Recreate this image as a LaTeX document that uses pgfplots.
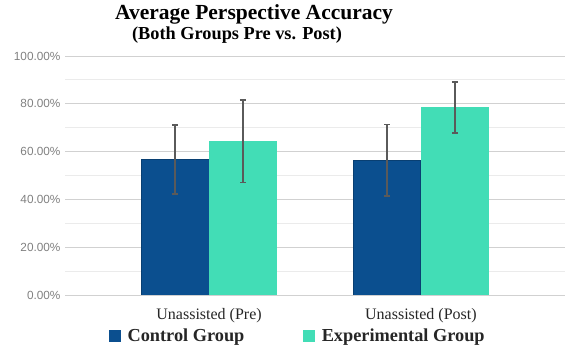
\documentclass[border=0pt]{standalone}
\usepackage{pgfplots}
\pgfplotsset{compat=1.18}
\usepackage{fontspec}
\setmainfont{Liberation Serif}
\newfontfamily\sansf{Liberation Sans}
\definecolor{ctrl}{HTML}{0B4F8F}
\definecolor{expc}{HTML}{42DDB6}
\definecolor{errc}{HTML}{5A5A5A}
\begin{document}
\begin{tikzpicture}[x=1pt,y=1pt]
\useasboundingbox (0,0) rectangle (577,355);
\node[font=\bfseries\fontsize{21.5}{24}\selectfont, anchor=base, inner sep=0pt] at (254,335) {Average Perspective Accuracy};
\node[font=\bfseries\fontsize{18.3}{20}\selectfont, anchor=base, inner sep=0pt] at (237,315) {(Both Groups Pre vs. Post)};
\begin{axis}[
  at={(65pt,60pt)}, anchor=south west,
  scale only axis, width=500pt, height=239pt,
  xmin=-0.68, xmax=1.68, ymin=0, ymax=100,
  axis line style={draw=none},
  ytick={0,20,40,60,80,100},
  yticklabels={0.00\%,20.00\%,40.00\%,60.00\%,80.00\%,100.00\%},
  minor ytick={10,30,50,70,90},
  ymajorgrids, yminorgrids,
  major grid style={color=black!18, line width=0.8pt},
  minor grid style={color=black!8, line width=0.8pt},
  major tick length=0pt, minor tick length=0pt,
  yticklabel style={font=\sansf\fontsize{11.8}{13}\selectfont, text=black!50, xshift=-1pt},
  xtick={0,1},
  xticklabels={Unassisted (Pre),Unassisted (Post)},
  xticklabel style={font=\fontsize{16}{18}\selectfont, text=black!85, yshift=-10pt},
  extra y ticks={0}, extra y tick labels={},
  extra y tick style={grid style={color=black!65, line width=1pt}},
  ybar, bar width=0.317,
  legend columns=2,
  legend style={at={(0.088,-0.1715)}, anchor=west, draw=none, fill=none, inner sep=0pt,
    font=\bfseries\fontsize{18.3}{20}\selectfont, text=black!85,
    /tikz/every odd column/.append style={column sep=5pt},
    /tikz/every even column/.append style={column sep=57pt}},
  error bars/y dir=both, error bars/y explicit,
  error bars/error bar style={line width=1.6pt, color=errc},
  error bars/error mark options={rotate=90, mark size=3pt, line width=1.6pt, color=errc},
]
\addplot[fill=ctrl, draw=ctrl!80!black, bar shift=-0.16,
  legend image code/.code={\fill[ctrl] (0pt,-5.5pt) rectangle (11pt,5.5pt);}]
  coordinates {(0,56.7) +- (0,14.4) (1,56.3) +- (0,15.0)};
\addlegendentry{Control Group}
\addplot[fill=expc, draw=expc, bar shift=0.16,
  legend image code/.code={\fill[expc] (0pt,-5.5pt) rectangle (11pt,5.5pt);}]
  coordinates {(0,64.3) +- (0,17.3) (1,78.5) +- (0,10.7)};
\addlegendentry{Experimental Group}
\end{axis}
\end{tikzpicture}
\end{document}
